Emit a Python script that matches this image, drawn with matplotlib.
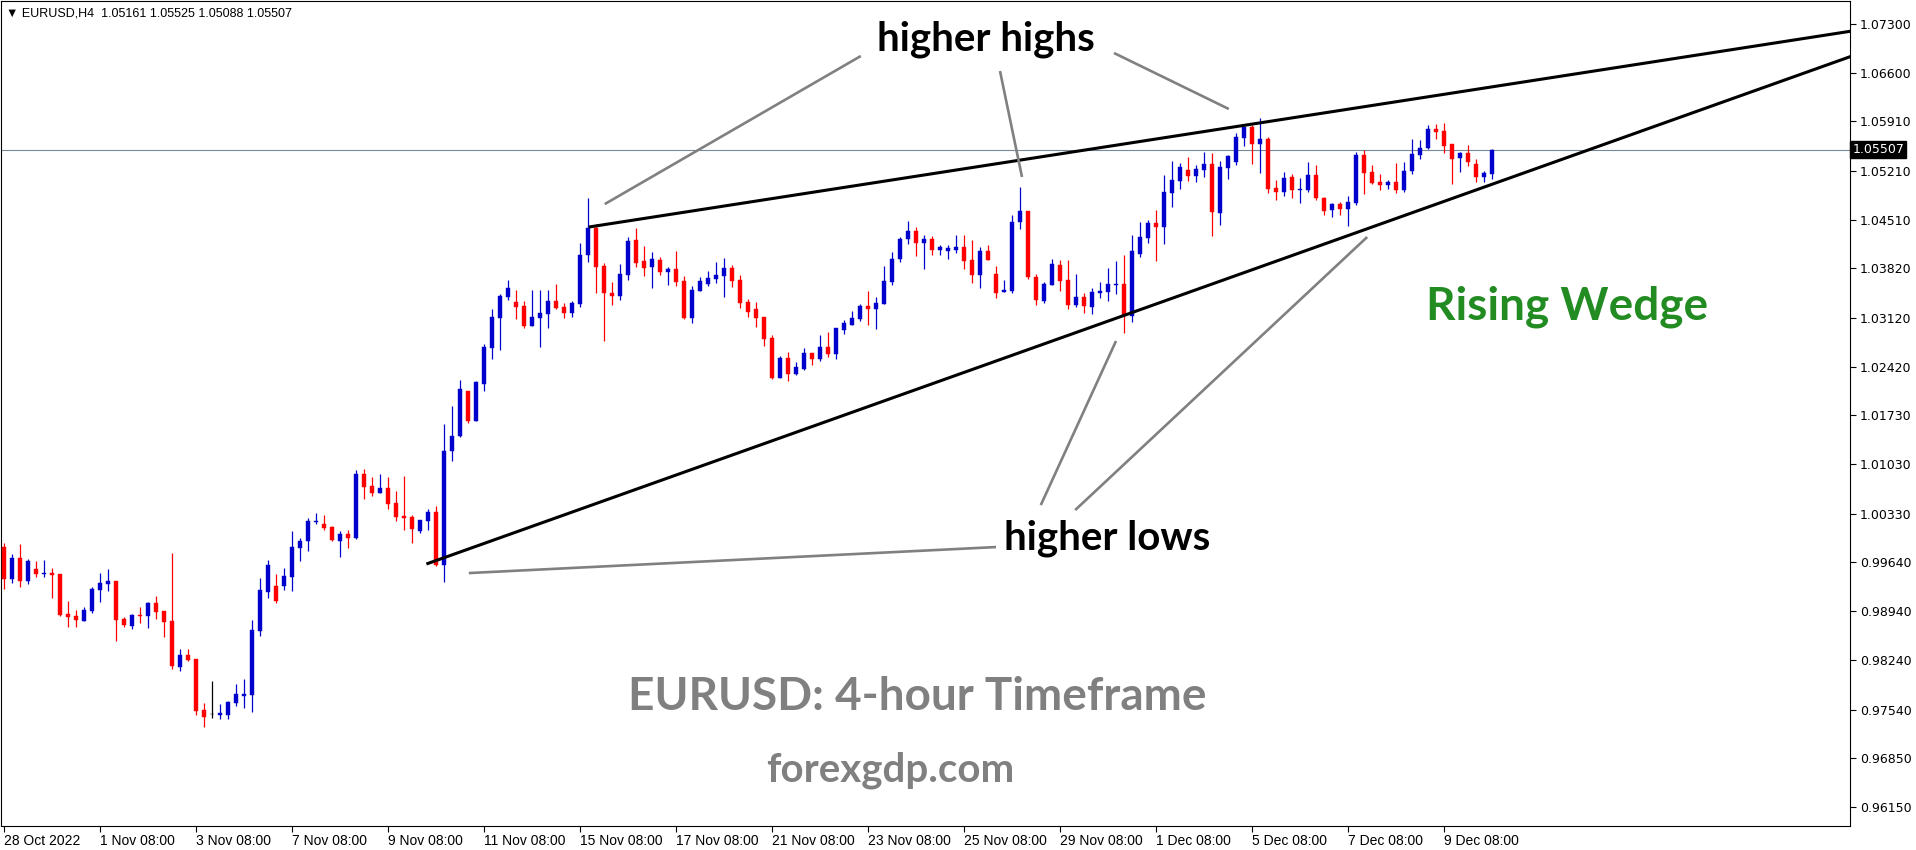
import matplotlib
matplotlib.use("Agg")
import matplotlib.pyplot as plt
import matplotlib.transforms as mtransforms
import numpy as np

# ---------------- data (EURUSD H4 candles) ----------------
opens = [0.99859, 0.99399, 0.99698, 0.99375, 0.99541, 0.99475, 0.99485, 0.99470, 0.98902, 0.98873,
         0.98802, 0.98944, 0.99243, 0.99328, 0.99371, 0.98830, 0.98731, 0.98887, 0.98873, 0.99058,
         0.98944, 0.98802, 0.98148, 0.98318, 0.98262, 0.97536, 0.97470, 0.97465, 0.97465, 0.97636,
         0.97735, 0.97750, 0.98660, 0.99214, 0.99300, 0.99300, 0.99428, 0.99840, 0.99941, 1.00211,
         1.00183, 1.00140, 0.99941, 1.00040, 0.99984, 1.00893, 1.00723, 1.00623, 1.00694, 1.00481,
         1.00296, 1.00282, 1.00083, 1.00225, 1.00353, 0.99600, 1.01221, 1.01437, 1.02077, 1.01650,
         1.02176, 1.02688, 1.03115, 1.03413, 1.03342, 1.03285, 1.03001, 1.03115, 1.03172, 1.03356,
         1.03271, 1.03186, 1.03314, 1.04011, 1.04394, 1.03854, 1.03470, 1.03428, 1.03726, 1.04224,
         1.03925, 1.03840, 1.03939, 1.03769, 1.03811, 1.03641, 1.03115, 1.03499, 1.03598, 1.03669,
         1.03712, 1.03825, 1.03655, 1.03342, 1.03242, 1.03129, 1.02830, 1.02261, 1.02546, 1.02318,
         1.02389, 1.02617, 1.02532, 1.02702, 1.02603, 1.02944, 1.03015, 1.03100, 1.03285, 1.03242,
         1.03314, 1.03626, 1.03953, 1.04238, 1.04351, 1.04181, 1.04238, 1.04081, 1.04067, 1.04081,
         1.04124, 1.03939, 1.03726, 1.04068, 1.03741, 1.03485, 1.03499, 1.04480, 1.04636, 1.03698,
         1.03357, 1.03584, 1.03869, 1.03655, 1.03300, 1.03414, 1.03271, 1.03470, 1.03485, 1.03589,
         1.03598, 1.03143, 1.04025, 1.04253, 1.04466, 1.04409, 1.04892, 1.05063, 1.05219, 1.05134,
         1.05219, 1.05305, 1.04608, 1.05249, 1.05334, 1.05675, 1.05832, 1.05590, 1.05661, 1.04964,
         1.04907, 1.05121, 1.04936, 1.04936, 1.05150, 1.04822, 1.04652, 1.04737, 1.04666, 1.04751,
         1.05434, 1.05192, 1.05050, 1.05007, 1.05050, 1.04936, 1.05206, 1.05434, 1.05533, 1.05803,
         1.05775, 1.05590, 1.05391, 1.05462, 1.05306, 1.05121, 1.05161]
highs = [0.99916, 0.99755, 0.99897, 0.99684, 0.99655, 0.99669, 0.99556, 0.99470, 0.99086, 0.98958,
         0.99001, 0.99285, 0.99485, 0.99541, 0.99371, 0.98859, 0.98902, 0.99001, 0.99072, 0.99157,
         0.98944, 0.99769, 0.98404, 0.98404, 0.98262, 0.97636, 0.97949, 0.97622, 0.97664, 0.97906,
         0.97977, 0.98816, 0.99413, 0.99669, 0.99470, 0.99556, 1.00082, 0.99982, 1.00268, 1.00339,
         1.00311, 1.00154, 1.00083, 1.00097, 1.00950, 1.00965, 1.00851, 1.00893, 1.00851, 1.00652,
         1.00865, 1.00311, 1.00239, 1.00396, 1.00438, 1.01605, 1.01861, 1.02233, 1.02077, 1.02219,
         1.02745, 1.03243, 1.03456, 1.03655, 1.03513, 1.03356, 1.03513, 1.03513, 1.03513, 1.03598,
         1.03328, 1.03356, 1.04181, 1.04821, 1.04451, 1.03897, 1.03627, 1.03882, 1.04267, 1.04394,
         1.04139, 1.04053, 1.03982, 1.03840, 1.04067, 1.03712, 1.03570, 1.03698, 1.03783, 1.03911,
         1.03968, 1.03868, 1.03726, 1.03385, 1.03342, 1.03129, 1.02873, 1.02574, 1.02631, 1.02489,
         1.02688, 1.02617, 1.02873, 1.02915, 1.02972, 1.03086, 1.03214, 1.03314, 1.03498, 1.03413,
         1.03854, 1.04053, 1.04266, 1.04494, 1.04408, 1.04295, 1.04281, 1.04153, 1.04153, 1.04295,
         1.04295, 1.04224, 1.04124, 1.04153, 1.03854, 1.03655, 1.04580, 1.04978, 1.04636, 1.03741,
         1.03627, 1.03954, 1.03940, 1.03940, 1.03741, 1.03470, 1.03541, 1.03627, 1.03826, 1.03925,
         1.04011, 1.04295, 1.04480, 1.04509, 1.04651, 1.05148, 1.05348, 1.05320, 1.05405, 1.05291,
         1.05476, 1.05462, 1.05348, 1.05434, 1.05747, 1.05846, 1.05860, 1.05960, 1.05690, 1.05078,
         1.05192, 1.05164, 1.05107, 1.05334, 1.05292, 1.04837, 1.04751, 1.04765, 1.04851, 1.05476,
         1.05505, 1.05292, 1.05164, 1.05078, 1.05320, 1.05334, 1.05661, 1.05647, 1.05860, 1.05874,
         1.05889, 1.05590, 1.05476, 1.05576, 1.05377, 1.05206, 1.05525]
lows = [0.99262, 0.99347, 0.99290, 0.99333, 0.99432, 0.99432, 0.99134, 0.98873, 0.98721, 0.98721,
        0.98802, 0.98916, 0.99072, 0.99229, 0.98518, 0.98721, 0.98688, 0.98774, 0.98702, 0.98830,
        0.98574, 0.98119, 0.98091, 0.98233, 0.97465, 0.97295, 0.97423, 0.97408, 0.97408, 0.97593,
        0.97565, 0.97508, 0.98589, 0.99129, 0.99058, 0.99243, 0.99229, 0.99655, 0.99799, 1.00183,
        1.00097, 0.99941, 0.99713, 0.99841, 0.99969, 1.00538, 1.00581, 1.00623, 1.00396, 1.00225,
        1.00097, 0.99912, 1.00055, 1.00097, 0.99585, 0.99355, 1.01078, 1.01423, 1.01622, 1.01650,
        1.02077, 1.02532, 1.02660, 1.03371, 1.03100, 1.02973, 1.03001, 1.02702, 1.02973, 1.03243,
        1.03115, 1.03129, 1.03271, 1.03911, 1.03470, 1.02788, 1.03300, 1.03371, 1.03655, 1.03840,
        1.03712, 1.03541, 1.03726, 1.03584, 1.03570, 1.03100, 1.03044, 1.03499, 1.03570, 1.03613,
        1.03413, 1.03555, 1.03257, 1.03129, 1.02987, 1.02716, 1.02247, 1.02261, 1.02219, 1.02304,
        1.02375, 1.02446, 1.02503, 1.02560, 1.02532, 1.02887, 1.03015, 1.03072, 1.03015, 1.02958,
        1.03314, 1.03584, 1.03911, 1.04167, 1.03996, 1.03811, 1.04010, 1.04010, 1.03953, 1.04039,
        1.03811, 1.03612, 1.03541, 1.03940, 1.03399, 1.03485, 1.03470, 1.04381, 1.03670, 1.03300,
        1.03328, 1.03584, 1.03499, 1.03243, 1.03271, 1.03186, 1.03172, 1.03399, 1.03357, 1.03456,
        1.02902, 1.03058, 1.03982, 1.04181, 1.03925, 1.04167, 1.04693, 1.04949, 1.05063, 1.05049,
        1.05120, 1.04281, 1.04437, 1.05093, 1.05292, 1.05562, 1.05306, 1.05178, 1.04893, 1.04794,
        1.04851, 1.04822, 1.04751, 1.04907, 1.04794, 1.04581, 1.04552, 1.04581, 1.04424, 1.04723,
        1.04879, 1.05021, 1.04936, 1.04950, 1.04893, 1.04907, 1.05164, 1.05377, 1.05519, 1.05661,
        1.05462, 1.05021, 1.05192, 1.05277, 1.05050, 1.05050, 1.05088]
closes = [0.99399, 0.99698, 0.99375, 0.99655, 0.99475, 0.99485, 0.99456, 0.98887, 0.98859, 0.98816,
          0.98958, 0.99257, 0.99342, 0.99371, 0.98816, 0.98745, 0.98887, 0.98873, 0.99058, 0.98930,
          0.98788, 0.98162, 0.98318, 0.98247, 0.97522, 0.97437, 0.97470, 0.97494, 0.97650, 0.97764,
          0.97764, 0.98674, 0.99243, 0.99598, 0.99086, 0.99442, 0.99854, 0.99940, 1.00225, 1.00225,
          1.00126, 0.99955, 1.00040, 0.99984, 1.00893, 1.00709, 1.00623, 1.00694, 1.00467, 1.00282,
          1.00268, 1.00111, 1.00239, 1.00353, 0.99600, 1.01221, 1.01434, 1.02105, 1.01650, 1.02205,
          1.02702, 1.03129, 1.03428, 1.03541, 1.03271, 1.03001, 1.03129, 1.03186, 1.03356, 1.03257,
          1.03186, 1.03328, 1.04011, 1.04394, 1.03840, 1.03470, 1.03428, 1.03740, 1.04210, 1.03897,
          1.03826, 1.03954, 1.03769, 1.03811, 1.03627, 1.03115, 1.03513, 1.03641, 1.03683, 1.03726,
          1.03826, 1.03641, 1.03328, 1.03200, 1.03114, 1.02816, 1.02261, 1.02546, 1.02318, 1.02418,
          1.02617, 1.02532, 1.02702, 1.02603, 1.02972, 1.03043, 1.03114, 1.03285, 1.03242, 1.03328,
          1.03641, 1.03953, 1.04238, 1.04351, 1.04181, 1.04238, 1.04081, 1.04124, 1.04110, 1.04124,
          1.03925, 1.03726, 1.04067, 1.03940, 1.03470, 1.03513, 1.04480, 1.04636, 1.03698, 1.03371,
          1.03598, 1.03883, 1.03641, 1.03300, 1.03414, 1.03286, 1.03485, 1.03499, 1.03598, 1.03603,
          1.03143, 1.04068, 1.04267, 1.04466, 1.04409, 1.04907, 1.05077, 1.05262, 1.05134, 1.05234,
          1.05305, 1.04622, 1.05262, 1.05419, 1.05690, 1.05832, 1.05590, 1.05661, 1.04950, 1.04907,
          1.05107, 1.04936, 1.04950, 1.05150, 1.04822, 1.04637, 1.04737, 1.04666, 1.04765, 1.05434,
          1.05178, 1.05036, 1.05007, 1.05050, 1.04936, 1.05206, 1.05448, 1.05533, 1.05803, 1.05761,
          1.05562, 1.05377, 1.05462, 1.05334, 1.05121, 1.05178, 1.05507]

x_tick_labels = ["28 Oct 2022", "1 Nov 08:00", "3 Nov 08:00", "7 Nov 08:00", "9 Nov 08:00",
                 "11 Nov 08:00", "15 Nov 08:00", "17 Nov 08:00", "21 Nov 08:00", "23 Nov 08:00",
                 "25 Nov 08:00", "29 Nov 08:00", "1 Dec 08:00", "5 Dec 08:00", "7 Dec 08:00",
                 "9 Dec 08:00"]
y_tick_values = [1.07300, 1.06600, 1.05910, 1.05210, 1.04510, 1.03820, 1.03120, 1.02420, 1.01730,
                 1.01030, 1.00330, 0.99640, 0.98940, 0.98240, 0.97540, 0.96850, 0.96150]

current_price = 1.05507
header = "\u25BC EURUSD,H4  1.05161 1.05525 1.05088 1.05507"

# trend lines (candle index, price)
wedge_upper = [(73.1, 1.04408), (231.0, 1.07198)]
wedge_lower = [(52.8, 0.99612), (231.0, 1.06842)]
pointer_lines = [
    [(75.1, 1.04735), (107.1, 1.06842)],
    [(124.5, 1.06628), (127.25, 1.05120)],
    [(138.75, 1.06885), (153.1, 1.06088)],
    [(58.1, 0.99483), (124.0, 0.99853)],
    [(129.6, 1.00451), (139.0, 1.02786)],
    [(133.9, 1.00380), (170.4, 1.04266)],
]

# ---------------- figure ----------------
W, H = 1916, 850
fig = plt.figure(figsize=(W / 100, H / 100), dpi=100)
fig.patch.set_facecolor("white")
px_left, px_right, px_top, px_bottom = 1, 1850, 1, 826
ax = fig.add_axes([px_left / W, 1 - px_bottom / H, (px_right - px_left) / W, (px_bottom - px_top) / H])

n = len(opens)
idx = np.arange(n)
o = np.array(opens); h = np.array(highs); l = np.array(lows); c = np.array(closes)

colors = []
for oo, cc in zip(o, c):
    if cc > oo:
        colors.append("#0000CC")
    elif cc < oo:
        colors.append("#FF0000")
    else:
        colors.append("#000000")

ax.axhline(current_price, color="#778899", lw=0.8, zorder=1)

ax.vlines(idx, l, h, colors=colors, lw=0.9, zorder=3)
bottoms = np.minimum(o, c)
heights = np.maximum(np.abs(c - o), 0.00002)
ax.bar(idx, heights, bottom=bottoms, width=0.62, color=colors, edgecolor=colors,
       linewidth=0.3, zorder=4)

# trend lines
for line in (wedge_upper, wedge_lower):
    xs, ys = zip(*line)
    ax.plot(xs, ys, color="black", lw=2.2, solid_capstyle="butt", zorder=5)
for line in pointer_lines:
    xs, ys = zip(*line)
    ax.plot(xs, ys, color="#808080", lw=1.9, solid_capstyle="butt", zorder=5)

# axes limits (candle index / price)
ax.set_xlim(-0.375, 230.75)
ax.set_ylim(0.95883, 1.07625)

# y axis on the right
ax.yaxis.tick_right()
ax.set_yticks(y_tick_values)
ax.set_yticklabels([f"{v:.5f}" for v in y_tick_values], fontsize=9, family="DejaVu Sans")
ax.tick_params(axis="y", direction="out", length=4, width=0.8, pad=3, colors="black")

# x axis
ax.set_xticks(np.arange(0, 12 * len(x_tick_labels), 12))
ax.set_xticklabels(x_tick_labels, fontsize=10, family="Liberation Sans", ha="left")
ax.tick_params(axis="x", direction="out", length=4, width=0.8, pad=2, colors="black")

for sp in ax.spines.values():
    sp.set_color("black")
    sp.set_linewidth(0.8)

# current price label
trans = mtransforms.blended_transform_factory(ax.transAxes, ax.transData)
ax.text(1.0012, current_price, f"{current_price:.5f}", transform=trans, fontsize=9,
        family="DejaVu Sans", color="white", va="center", ha="left",
        bbox=dict(boxstyle="square,pad=0.15", fc="black", ec="black"), zorder=10, clip_on=False)

# header
fig.text(6 / W, 1 - 13 / H, header, fontsize=9, family="Liberation Sans", color="black",
         va="center", ha="left")

# annotations
def ftext(x, y, s, **kw):
    fig.text(x / W, 1 - y / H, s, ha="center", va="center", family="Lato",
             fontweight="bold", **kw)

ftext(986, 39, "higher highs", fontsize=29, color="black")
ftext(1107, 538, "higher lows", fontsize=29, color="black")
ftext(1567, 307, "Rising Wedge", fontsize=33, color="#228B22")
ftext(917, 697, "EURUSD: 4-hour Timeframe", fontsize=33, color="#808080")
ftext(890, 770, "forexgdp.com", fontsize=29, color="#808080")

fig.savefig("out.png", dpi=100, facecolor="white")
